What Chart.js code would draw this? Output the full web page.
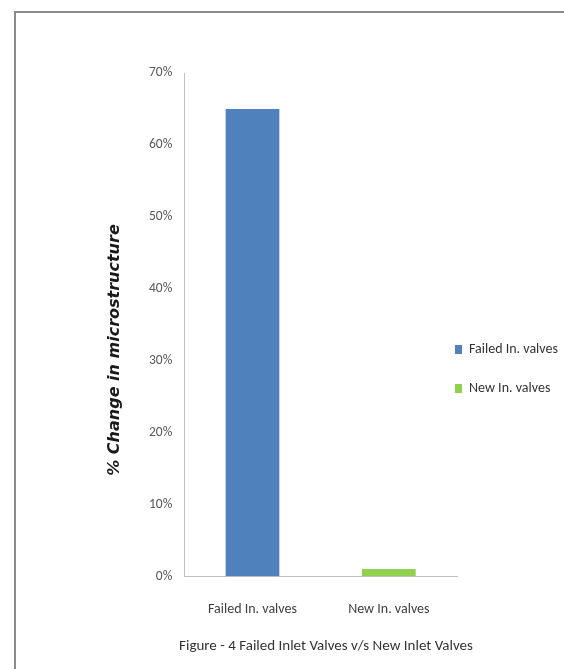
<!DOCTYPE html>
<html>
<head>
<meta charset="utf-8">
<script src="https://cdn.jsdelivr.net/npm/chart.js@4"></script>
<style>
  html, body { margin: 0; padding: 0; background: #fff; }
  #wrap { position: relative; width: 564px; height: 669px; overflow: hidden; }
  #frame { position: absolute; left: 14px; top: 11px; width: 600px; height: 700px; border: 2px solid #8c8c8c; }
  canvas { position: absolute; left: 0; top: 0; }
</style>
</head>
<body>
<div id="wrap">
  <div id="frame"></div>
  <canvas id="valveChart" width="564" height="669"></canvas>
</div>
<script>
var categories = ["Failed In. valves", "New In. valves"];
var failedValues = [0.65, null];
var newValues = [null, 0.01];
var yMax = 0.7;
var yStep = 0.1;
var yTitle = "% Change in microstructure";
var figureTitle = "Figure - 4 Failed Inlet Valves v/s New Inlet Valves";

document.addEventListener("DOMContentLoaded", function () {
  var calibri = 'Carlito, "Liberation Sans", sans-serif';

  // y axis title drawn by hand so it can sit a bit lower, like the original
  var yTitlePlugin = {
    id: "yTitle",
    afterDraw: function (chart) {
      var ctx = chart.ctx;
      ctx.save();
      ctx.translate(115, 350);
      ctx.rotate(-Math.PI / 2);
      ctx.font = 'italic bold 16px "DejaVu Sans", sans-serif';
      ctx.fillStyle = "#1a1a1a";
      ctx.textAlign = "center";
      ctx.textBaseline = "middle";
      ctx.fillText(yTitle, 0, 0);
      ctx.restore();
    },
  };

  // legend box is kept narrow for the layout, then widened to the right edge
  var legendShift = {
    id: "legendShift",
    afterLayout: function (chart) {
      chart.legend.left = 430;
      chart.legend.right = 564;
      chart.legend.top -= 2;
      chart.legend.bottom -= 2;
    },
  };

  var ctx = document.getElementById("valveChart").getContext("2d");
  new Chart(ctx, {
    type: "bar",
    data: {
      labels: categories,
      datasets: [
        {
          label: "Failed In. valves",
          data: failedValues,
          backgroundColor: "#4F81BD",
          categoryPercentage: 1,
          barPercentage: 0.394,
        },
        {
          label: "New In. valves",
          data: newValues,
          backgroundColor: "#92D050",
          categoryPercentage: 1,
          barPercentage: 0.394,
        },
      ],
    },
    options: {
      responsive: false,
      animation: false,
      layout: {
        padding: { left: 137, right: 49, top: 73, bottom: 0 },
      },
      scales: {
        x: {
          stacked: true,
          grid: { display: false, drawTicks: false },
          border: { color: "#BFBFBF" },
          ticks: {
            padding: 25,
            color: "#404040",
            font: { family: calibri, size: 14 },
          },
        },
        y: {
          min: 0,
          max: yMax,
          grid: { display: false, drawTicks: false },
          border: { color: "#BFBFBF" },
          ticks: {
            stepSize: yStep,
            padding: 12,
            color: "#595959",
            font: { family: calibri, size: 13.5 },
            callback: function (value) {
              return Math.round(value * 100) + "%";
            },
          },
        },
      },
      plugins: {
        legend: {
          position: "right",
          maxWidth: 58,
          labels: {
            boxWidth: 7,
            boxHeight: 9,
            padding: 25,
            color: "#333",
            font: { family: calibri, size: 14 },
          },
        },
        title: {
          display: true,
          position: "bottom",
          text: figureTitle,
          color: "#333",
          font: { family: calibri, size: 15, weight: "normal" },
          padding: { top: -6, bottom: 14 },
        },
        tooltip: { enabled: false },
      },
    },
    plugins: [yTitlePlugin, legendShift],
  });
});
</script>
</body>
</html>
